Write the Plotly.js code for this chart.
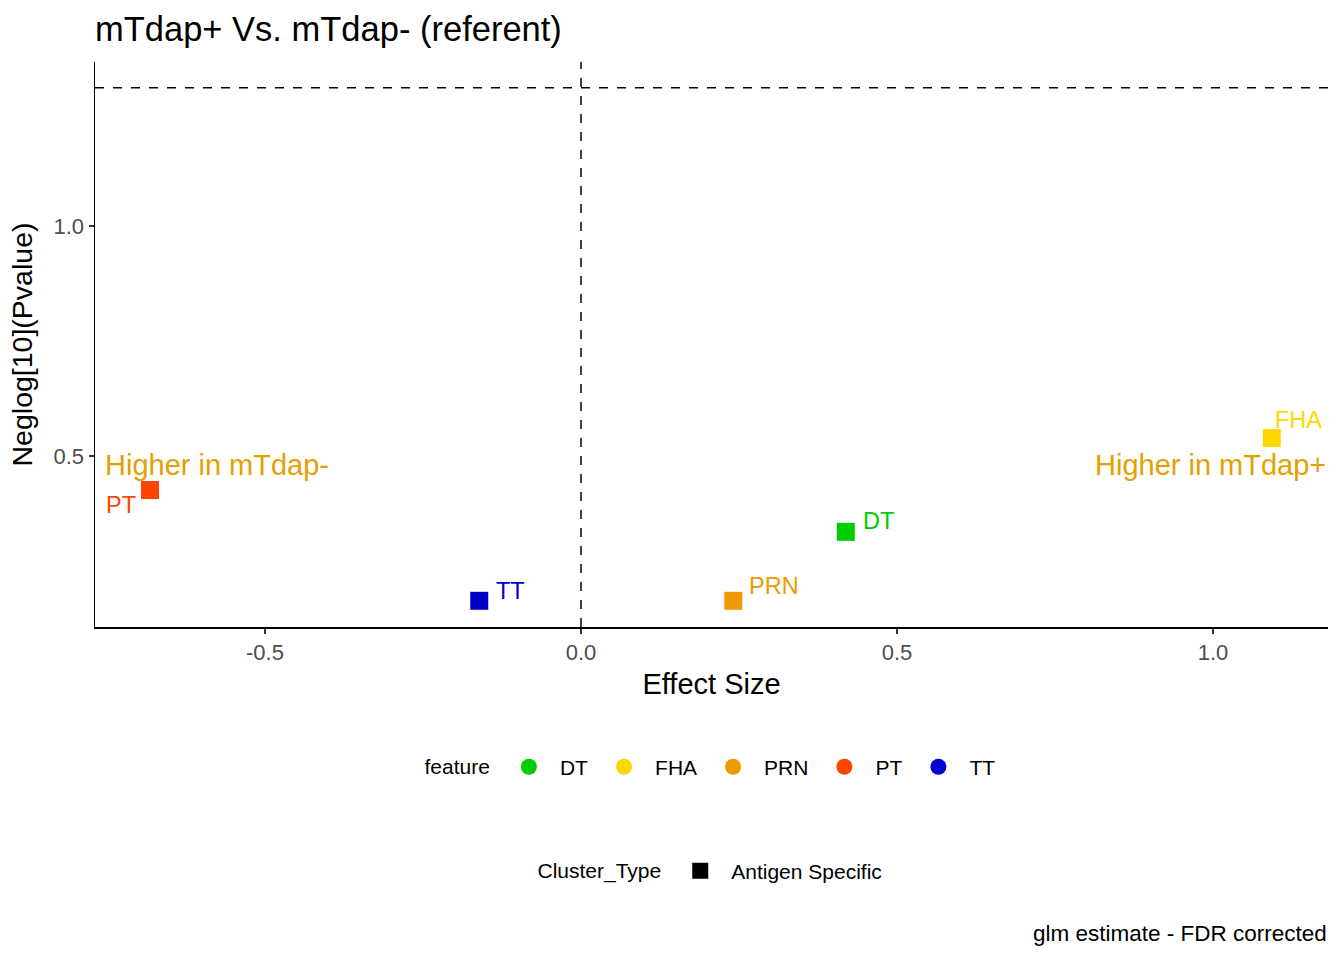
<!DOCTYPE html>
<html>
<head>
<meta charset="utf-8">
<title>mTdap+ Vs. mTdap- volcano</title>
<script src="https://cdn.plot.ly/plotly-3.0.1.min.js"></script>
<style>
  body { margin: 0; background: #fff; }
  #plot { width: 1344px; height: 960px; }
</style>
</head>
<body>
<div id="plot"></div>
<script>
// ---- data ----
var features   = ["DT", "FHA", "PRN", "PT", "TT"];
var effectSize = [0.419, 1.093, 0.241, -0.682, -0.161];
var negLogP    = [0.335, 0.539, 0.185, 0.426, 0.185];
var colours    = ["#00CD00", "#FFD700", "#EE9A00", "#FF4500", "#0000CD"];
var clusterTypes = ["Antigen Specific"];
var pCutoff = 0.05;
var xTicks = [-0.5, 0.0, 0.5, 1.0];
var yTicks = [0.5, 1.0];

// label nudges (pixels), repel-style, one per feature
var labelAnchor = ["left", "left", "left", "right", "left"];
var labelDx = [15, 1, 14, -12, 15];
var labelDy = [11, 18, 15, -15, 10];

var FONT = "Liberation Sans, Arial, sans-serif";
var traces = [];

// the points, one trace per feature (squares)
for (var i = 0; i < features.length; i++) {
  traces.push({
    type: "scatter", mode: "markers",
    x: [effectSize[i]], y: [negLogP[i]], name: features[i],
    marker: {symbol: "square", size: 18, color: colours[i]},
    showlegend: false, cliponaxis: false
  });
}
// legend entries for feature (circles, as ggplot draws them)
for (var j = 0; j < features.length; j++) {
  traces.push({
    type: "scatter", mode: "markers",
    x: [null], y: [null], name: features[j],
    marker: {symbol: "circle", size: 16, color: colours[j]},
    legend: "legend", showlegend: true
  });
}
// legend entry for Cluster_Type
traces.push({
  type: "scatter", mode: "markers",
  x: [null], y: [null], name: clusterTypes[0],
  marker: {symbol: "square", size: 16, color: "#000000"},
  legend: "legend2", showlegend: true
});

var thresh = -Math.log10(pCutoff);

var notes = [
  {text: "Higher in mTdap-", xref: "x", yref: "y", x: -0.757, y: 0.48,
   xanchor: "left", yanchor: "middle", showarrow: false,
   font: {family: FONT, size: 29, color: "#E69F00"}},
  {text: "Higher in mTdap+", xref: "x", yref: "y", x: 1.182, y: 0.48,
   xanchor: "right", yanchor: "middle", showarrow: false,
   font: {family: FONT, size: 29, color: "#E69F00"}},
  {text: "glm estimate - FDR corrected", xref: "paper", yref: "paper", x: 1.001, y: -0.542,
   xanchor: "right", yanchor: "middle", showarrow: false,
   font: {family: FONT, size: 22.5, color: "#000"}}
];
// point labels
for (var k = 0; k < features.length; k++) {
  notes.push({
    text: features[k], xref: "x", yref: "y", x: effectSize[k], y: negLogP[k],
    xanchor: labelAnchor[k], yanchor: "middle", xshift: labelDx[k], yshift: labelDy[k],
    showarrow: false, font: {family: FONT, size: 23.5, color: colours[k]}
  });
}

var layout = {
  width: 1344, height: 960,
  paper_bgcolor: "#fff", plot_bgcolor: "#fff",
  font: {family: FONT, color: "#000"},
  margin: {l: 95, r: 16, t: 62, b: 333},
  title: {text: "mTdap+ Vs. mTdap- (referent)", x: 0, xref: "paper", xanchor: "left",
          y: 1, yref: "container", yanchor: "top", pad: {t: 17},
          font: {family: FONT, size: 34.5, color: "#000"}},
  xaxis: {
    range: [-0.769, 1.182], tickvals: xTicks, ticktext: xTicks.map(function(v){return v.toFixed(1);}),
    showgrid: false, zeroline: false, showline: true, linecolor: "#000", linewidth: 1.5,
    ticks: "outside", ticklen: 5, tickcolor: "#333", tickwidth: 1.5,
    tickfont: {family: FONT, size: 22, color: "#4D4D4D"},
    title: {text: "Effect Size", standoff: 10, font: {family: FONT, size: 29, color: "#000"}}
  },
  yaxis: {
    range: [0.128, 1.357], tickvals: yTicks, ticktext: yTicks.map(function(v){return v.toFixed(1);}),
    showgrid: false, zeroline: false, showline: true, linecolor: "#000", linewidth: 1.5,
    ticks: "outside", ticklen: 5, tickcolor: "#333", tickwidth: 1.5,
    tickfont: {family: FONT, size: 22, color: "#4D4D4D"},
    title: {text: "Neglog[10](Pvalue)", standoff: 12, font: {family: FONT, size: 28.5, color: "#000"}}
  },
  shapes: [
    {type: "line", xref: "x", yref: "paper", x0: 0, x1: 0, y0: 0, y1: 1,
     line: {color: "#000", width: 1.5, dash: "dash"}},
    {type: "line", xref: "paper", yref: "y", x0: 0, x1: 1, y0: thresh, y1: thresh,
     line: {color: "#000", width: 1.5, dash: "dash"}}
  ],
  annotations: notes,
  legend: {
    orientation: "h", x: 0.5, xanchor: "center", y: -0.248, yanchor: "middle",
    title: {text: "feature", side: "left", font: {family: FONT, size: 21}},
    font: {family: FONT, size: 21, color: "#000"}, itemwidth: 52, bgcolor: "rgba(0,0,0,0)"
  },
  legend2: {
    orientation: "h", x: 0.5, xanchor: "center", y: -0.432, yanchor: "middle",
    title: {text: "Cluster_Type", side: "left", font: {family: FONT, size: 21}},
    font: {family: FONT, size: 21, color: "#000"}, itemwidth: 52, bgcolor: "rgba(0,0,0,0)"
  }
};

Plotly.newPlot("plot", traces, layout, {displayModeBar: false, staticPlot: true});
</script>
</body>
</html>
